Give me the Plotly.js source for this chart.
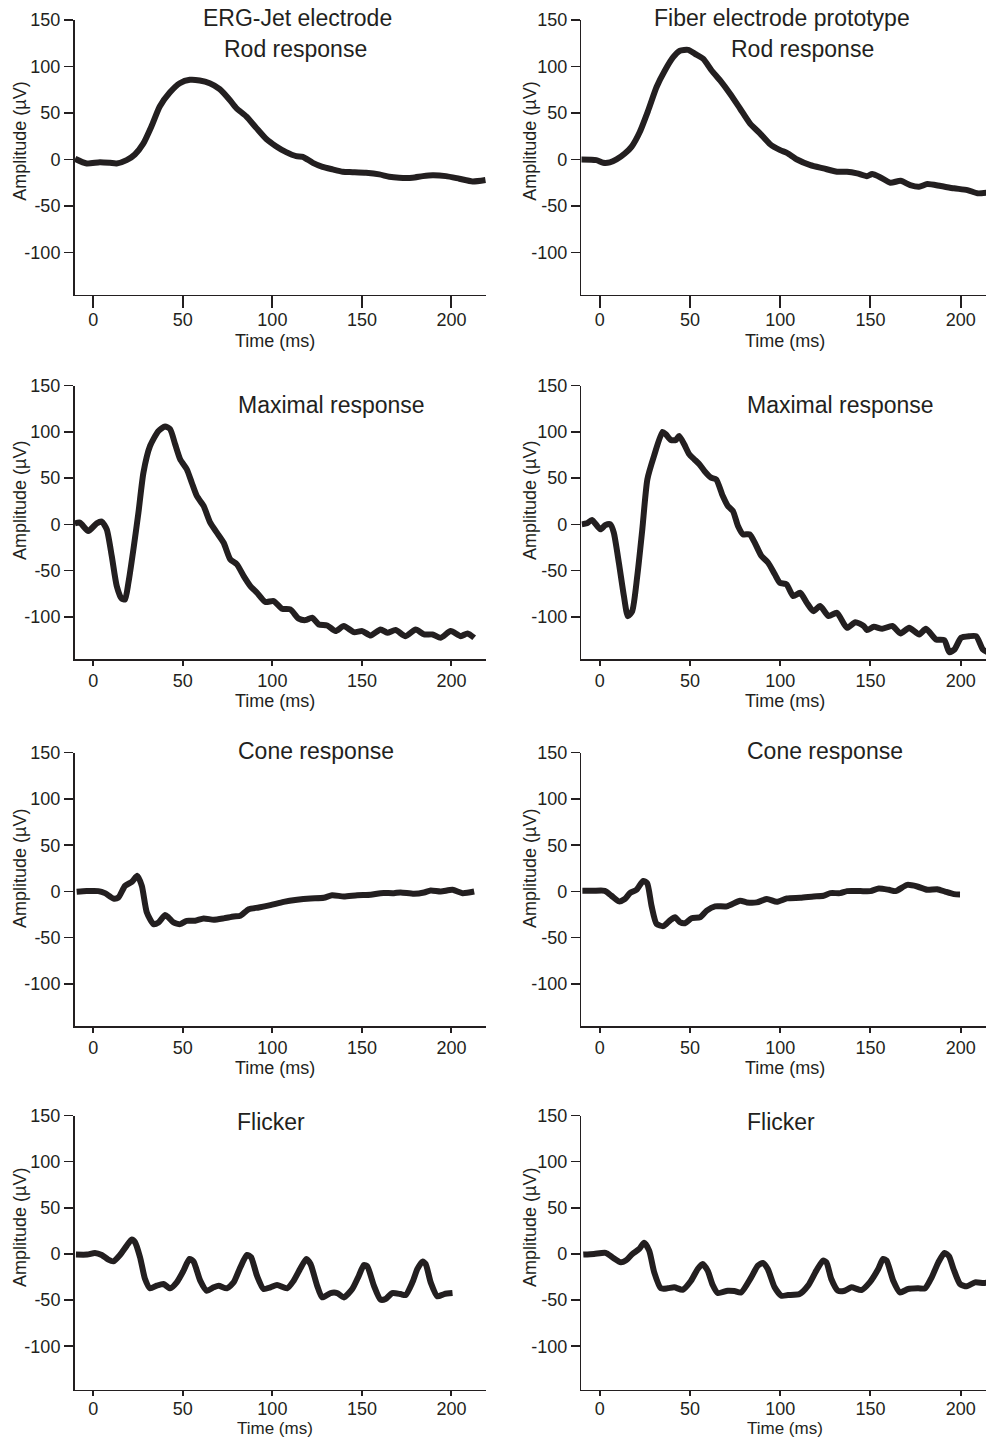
<!DOCTYPE html>
<html>
<head>
<meta charset="utf-8">
<script src="https://cdn.plot.ly/plotly-3.0.1.min.js"></script>
<style>
html,body{margin:0;padding:0;background:#ffffff;}
#chart{width:986px;height:1439px;}
</style>
</head>
<body>
<div id="chart"></div>
<script>
// ---------- data (time in ms, amplitude in µV) ----------
const jetRodTime = [-10.2,-3.7,3.7,9.3,13,18.6,23.2,27.9,32.5,37.1,42.7,48.3,53.9,59.4,65,70.6,76.1,79.8,85.4,91,96.6,102,107.7,113.3,117,122.6,128,133.7,139.3,144.8,152.3,159.7,165.3,170.8,178.2,184,189.5,196.9,204.4,211.8,219];
const jetRodAmp  = [0.7,-4.3,-2.9,-3.6,-4.3,-0.7,5.4,17,35.7,57,72,82,85.7,85,82,75.7,64.3,55.4,46.4,34,22,14.3,7.9,3.6,2.9,-3.6,-7.9,-10.7,-13.2,-13.6,-14.3,-16,-18.6,-19.6,-19.6,-17.9,-17,-17.9,-20.7,-23.6,-22];

const fiberRodTime = [-10.2,-1.9,1.9,5.6,9.3,13.9,17.6,22.2,26.9,31.5,36.1,40.7,44.4,49,52.8,57.4,62,66.7,72.2,77.8,83.3,88.9,94.4,100,103.7,109.3,116.7,124,131.5,137,142.6,148,150.9,155.6,161,166.7,172,176.9,181.5,188.9,196.3,203.7,209.3,214.6];
const fiberRodAmp  = [0,-0.7,-3.6,-3.2,0,6.4,13.6,29.6,52.9,77.9,95.7,110,117,117.9,113.6,108.2,95.7,85,70.7,54.6,38.6,27.9,16.4,10,7.1,0,-6.1,-9.6,-13.2,-13.2,-15,-17.9,-15.7,-19.3,-25,-22.9,-27.5,-29.3,-26.4,-28.6,-31,-32.9,-36.4,-35.7];

const jetMaxTime = [-10.3,-7.5,-2.8,1.9,4.7,7.5,10.3,13.1,15.9,17.7,19.6,22.4,25.2,28,31.7,36.4,40.1,42.9,45.7,48.5,52.2,55,57.8,61.6,65.3,69,72.8,76.5,80.2,84,87.7,91.4,96.1,100.7,105.4,110,114.7,118.5,122.2,125.9,130.6,135.3,139.9,145.5,150.2,154.9,160.4,164.2,168.8,174.4,180,184.7,189.4,194,199.6,205.2,209,212.7];
const jetMaxAmp  = [1.1,1.8,-7.2,1.1,2.9,-5.4,-34.3,-66.8,-80.5,-81.2,-63.2,-27,12.6,56,84.8,101,105.8,103,86.6,70.4,59.6,45,30.7,19.9,1.8,-9,-19.9,-37.9,-43.3,-56,-66.8,-74,-84,-83,-91.3,-92,-102,-103.6,-101,-108.3,-109.4,-115.5,-110,-116.6,-115.5,-120.2,-113.7,-117.3,-114.4,-121,-113.7,-119.1,-119.1,-122.7,-115.5,-121,-118,-122.7];

const fiberMaxTime = [-9.9,-7.1,-4.3,0.4,3.2,5.9,7.8,10.6,13.4,15.6,18,20.8,23.6,26.4,30.1,34.8,36.6,39.4,42.2,44,46.8,49.6,52.4,55.2,58,61.7,64.5,68.2,71,73.8,76.6,79.4,83.1,85.9,89.6,93.3,97,99.8,103.5,107.2,111,114.7,118.4,122.1,126.8,131.4,137,141.6,146.3,148.1,151.9,156.5,162.1,166.7,171.4,177,180.7,186.3,190.9,193.7,196.5,200.2,204.8,208.6,212.3,215.8];
const fiberMaxAmp  = [0,1.1,4.7,-5.4,-0.7,0,-9,-41.5,-77.6,-99.3,-93.9,-56,-5.4,48.7,74,100,97.5,91.3,91.3,95.7,86.6,75.8,70.4,65,57.8,50.5,48.7,30.7,19.9,14.4,-1.8,-10.8,-10.8,-19.9,-34.3,-41.5,-54,-63.2,-65,-77.6,-74,-84.8,-93.9,-88.4,-99.3,-95.7,-112,-105.8,-110,-114.4,-110.8,-113,-110,-118,-112,-119.1,-113,-124.5,-125.3,-138.3,-135.4,-122.7,-121,-121,-135.4,-139];

const jetConeTime = [-9.3,-3.7,2.8,6.5,11.2,14,17.7,21.5,24.6,27.1,29.9,33.6,36.4,40.1,42,44.8,48.5,52.2,56.9,61.6,67.2,72.8,78.4,82.1,86.8,92.4,98.9,106.3,113.8,121.3,128.7,133.4,139.9,147.4,154.9,160.4,167.9,171.6,179.1,184.7,188.4,194,200.6,206.2,212.7];
const jetConeAmp  = [-0.4,0.4,0.4,-1.8,-7.6,-6.5,6.1,10.4,16.9,6.1,-22.7,-35.3,-33.5,-25.5,-28.1,-33.5,-35.3,-31.7,-31.7,-29.1,-30.6,-29.1,-27,-26.3,-19.1,-17.3,-14.7,-11.2,-9,-7.6,-6.8,-4,-5.4,-4,-3.6,-1.8,-1.8,-1.1,-2.5,-1.1,1.1,0,1.8,-1.8,0];

const fiberConeTime = [-9.6,-3.7,2.8,6.5,10.7,13.9,16.7,20.4,24.1,26.3,28.7,31.5,35.2,38.9,41.7,44.4,47.2,50.9,55.6,59.3,63.9,70.4,77.8,81.5,87,92.6,98.1,103.7,111.1,118.5,124,127.8,133.3,137,144.4,150,154.6,160.2,163.9,170.4,175.9,181.5,187,191.7,196.3,199.6];
const fiberConeAmp  = [0.7,0.7,0.7,-4.6,-10.7,-8.2,-1.8,1.8,11.4,8.9,-15.4,-35,-37.5,-31.4,-27.9,-33.2,-34.3,-28.9,-27.9,-20.7,-16.1,-16.1,-10,-11.8,-11.8,-8.2,-11.1,-7.5,-6.8,-5.4,-4.6,-1.8,-1.8,0.4,0.4,0.4,3.2,1.8,0.4,7.1,5.4,1.8,2.5,-0.4,-2.9,-3.2];

const jetFlickerTime = [-9.7,-3.4,0.9,4.7,8.4,11.2,14.9,18.7,21.5,23.3,26.1,28.9,31.7,35.4,39.2,42.9,46.6,50.4,53.7,56,59.7,63.4,67.2,70,74.6,78.4,82.1,85.8,88.1,91.4,95.1,98.9,102.6,108.2,111.9,115.7,119,121.3,125,127.8,132.5,136.2,139.9,144.6,148.3,151.1,153,156.7,160.4,163.2,166.9,171.6,174.4,178.2,181,183.8,185.6,188.4,192.2,195.9,200.6];
const jetFlickerAmp  = [-0.7,-0.7,1.1,-1.1,-6.2,-8,-1.1,9.1,15.6,12.7,-3.6,-27.2,-37.3,-34.4,-32.6,-37.3,-30.8,-18.1,-5.4,-8.3,-29,-39.9,-36.2,-34.4,-37.3,-30.8,-14.5,-1.1,-3.6,-23.6,-38,-36.2,-33.7,-37.3,-29,-15.6,-5.4,-10.9,-34.4,-47.1,-42.4,-42.4,-47.1,-38,-23.6,-12,-13.4,-34.4,-49.6,-48.9,-42.4,-43.5,-44.6,-30.8,-16.3,-8.3,-10.9,-30.8,-46,-43.5,-42.4];

const fiberFlickerTime = [-9.1,-3.1,3.3,7,11.7,14.4,18.1,21.9,24.6,27.4,30.2,33.9,37.6,41.3,45.9,50.6,54.3,57,59.8,62.6,65.4,70.9,74.6,78.3,83.9,87.6,90.4,93.1,96.9,100.6,104.3,110.7,115.4,120,123.7,125.6,128.3,132,135.7,139.4,145,149.6,154.3,157,158.9,162.6,166.3,170.9,176.5,180.2,183.9,187.6,191,193.5,196,199.6,203.3,207.9,212.6,215.2];
const fiberFlickerAmp  = [-0.7,0,1.1,-3.6,-9.1,-7.2,0,5.4,12,3.6,-19.9,-37.3,-37.3,-36.2,-38.8,-29,-16.3,-10.9,-18.1,-33.7,-42.4,-39.9,-40.2,-41.7,-25.4,-12.7,-9.8,-16.3,-36.2,-45.3,-44.6,-43.5,-34.4,-18.1,-7.2,-9.1,-27.2,-39.9,-39.9,-36.2,-39.1,-30.8,-16.3,-5.4,-7.2,-29,-41.7,-38,-37.3,-37.3,-25.4,-9.1,1.1,-2.5,-16.3,-32.6,-35.1,-30.8,-31.5,-30.8];

const columnTitles = ["ERG-Jet electrode", "Fiber electrode prototype"];
const panelTitles = ["Rod response", "Maximal response", "Cone response", "Flicker"];
const xTickVals = [0, 50, 100, 150, 200];
const yTickVals = [-100, -50, 0, 50, 100, 150];
const yTickText = ["-100", "-50", "0", "50", "100", "150"];
const xTitle = "Time (ms)";
const yTitle = "Amplitude (µV)";

// ---------- layout helpers ----------
const W = 986, H = 1439;
const INK = '#231f20';
const FONT = 'Liberation Sans, Arial, Helvetica, sans-serif';

const series = [
  [jetRodTime, jetRodAmp], [fiberRodTime, fiberRodAmp],
  [jetMaxTime, jetMaxAmp], [fiberMaxTime, fiberMaxAmp],
  [jetConeTime, jetConeAmp], [fiberConeTime, fiberConeAmp],
  [jetFlickerTime, jetFlickerAmp], [fiberFlickerTime, fiberFlickerAmp]
];

const rows = [
  {top: 20,     bot: 294.5,  ymin: -145.2, xtick: 12, xstand: -4, xTitleY: 341,  xTitleSize: 18, yTitleY: 141.7, titleY: 49},
  {top: 385.7,  bot: 659.3,  ymin: -146,   xtick: 5,  xstand: 0,  xTitleY: 701,  xTitleSize: 18, yTitleY: 501,   titleY: 405},
  {top: 752.7,  bot: 1026,   ymin: -145.4, xtick: 5,  xstand: 0,  xTitleY: 1068, xTitleSize: 18, yTitleY: 869,   titleY: 750.8},
  {top: 1115.5, bot: 1389.5, ymin: -146.9, xtick: 5,  xstand: -3, xTitleY: 1428, xTitleSize: 17, yTitleY: 1228,  titleY: 1121.5}
];
const cols = [
  {left: 74.5,  right: 486, xr: [-10.5, 219.3], yTitleX: 20,  xTitleX: 275,   titleX: [295, 331.5, 316, 271],   topTitleX: 297.5},
  {left: 581.3, right: 986, xr: [-10.2, 214.0], yTitleX: 530, xTitleX: 784.5, titleX: [802.5, 840, 825, 780.5], topTitleX: 782}
];

const px = v => v / W;
const py = v => 1 - v / H;

const traces = [];
const layout = {
  width: W, height: H,
  margin: {l: 0, r: 0, t: 0, b: 0, pad: 0},
  paper_bgcolor: '#ffffff',
  plot_bgcolor: '#ffffff',
  showlegend: false,
  font: {family: FONT, color: INK, size: 18},
  annotations: []
};

for (let r = 0; r < 4; r++) {
  for (let c = 0; c < 2; c++) {
    const i = r * 2 + c;
    const n = i + 1;
    const xk = n === 1 ? 'x' : 'x' + n;
    const yk = n === 1 ? 'y' : 'y' + n;
    const row = rows[r], col = cols[c];
    traces.push({
      x: series[i][0], y: series[i][1],
      xaxis: xk, yaxis: yk,
      type: 'scatter', mode: 'lines',
      line: {color: INK, width: 6, shape: 'spline', smoothing: 0.6},
      hoverinfo: 'skip'
    });
    layout['xaxis' + (n === 1 ? '' : n)] = {
      domain: [px(col.left), px(col.right)],
      anchor: yk,
      range: col.xr,
      tickmode: 'array', tickvals: xTickVals,
      ticks: 'outside', ticklen: row.xtick, tickwidth: 2, tickcolor: INK,
      ticklabelstandoff: row.xstand,
      showline: true, linecolor: INK, linewidth: 1.5,
      showgrid: false, zeroline: false,
      tickfont: {family: FONT, size: 18, color: INK},
      fixedrange: true
    };
    layout['yaxis' + (n === 1 ? '' : n)] = {
      domain: [py(row.bot), py(row.top)],
      anchor: xk,
      range: [row.ymin, 150],
      tickmode: 'array', tickvals: yTickVals, ticktext: yTickText,
      ticks: 'outside', ticklen: 9, tickwidth: 1.5, tickcolor: INK,
      showline: true, linecolor: INK, linewidth: 1.5,
      showgrid: false, zeroline: false,
      tickfont: {family: FONT, size: 18, color: INK},
      fixedrange: true
    };
    layout.annotations.push({
      text: panelTitles[r], showarrow: false,
      xref: 'paper', yref: 'paper',
      x: px(col.titleX[r]), y: py(row.titleY),
      xanchor: 'center', yanchor: 'middle',
      font: {family: FONT, size: 23, color: INK}
    });
    layout.annotations.push({
      text: xTitle, showarrow: false,
      xref: 'paper', yref: 'paper',
      x: px(col.xTitleX), y: py(row.xTitleY),
      xanchor: 'center', yanchor: 'middle',
      font: {family: FONT, size: row.xTitleSize, color: INK}
    });
    layout.annotations.push({
      text: yTitle, showarrow: false, textangle: -90,
      xref: 'paper', yref: 'paper',
      x: px(col.yTitleX), y: py(row.yTitleY),
      xanchor: 'center', yanchor: 'middle',
      font: {family: FONT, size: 18, color: INK}
    });
  }
}
for (let c = 0; c < 2; c++) {
  layout.annotations.push({
    text: columnTitles[c], showarrow: false,
    xref: 'paper', yref: 'paper',
    x: px(cols[c].topTitleX), y: py(18),
    xanchor: 'center', yanchor: 'middle',
    font: {family: FONT, size: 23, color: INK}
  });
}

Plotly.newPlot('chart', traces, layout, {staticPlot: true, displayModeBar: false});
</script>
</body>
</html>
